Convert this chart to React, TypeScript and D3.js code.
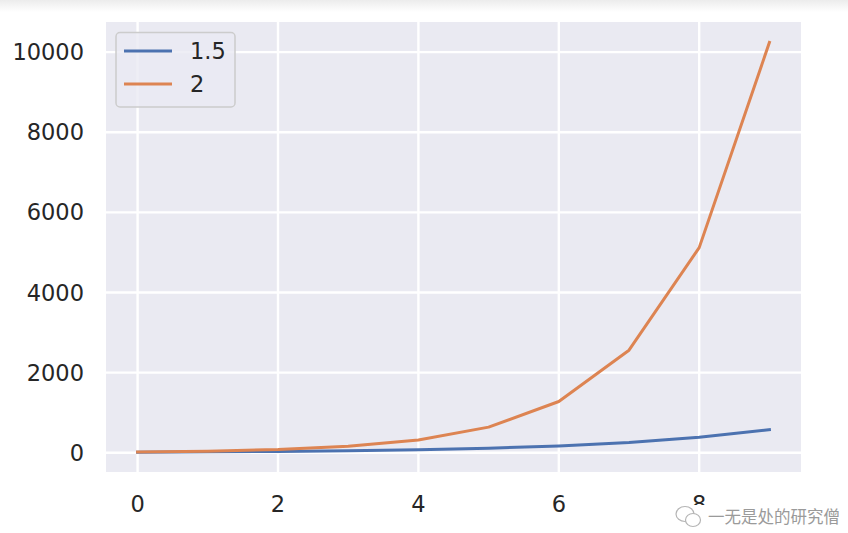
import React from "react";
import * as d3 from "d3";

const xValues = [0, 1, 2, 3, 4, 5, 6, 7, 8, 9];
const series15 = [15, 22.5, 33.8, 50.6, 75.9, 113.9, 170.9, 256.3, 384.4, 576.7];
const series2 = [20, 40, 80, 160, 320, 640, 1280, 2560, 5120, 10240];
const seriesNames = ["1.5", "2"];
const seriesColors = ["#4c72b0", "#dd8452"];
const xTicks = [0, 2, 4, 6, 8];
const yTicks = [0, 2000, 4000, 6000, 8000, 10000];

const W = 848, H = 533;
const L = 106, R = 801, T = 22, B = 472;

export default function App() {
  const x = d3.scaleLinear().domain([-0.45, 9.45]).range([L, R]);
  const y = d3.scaleLinear().domain([-480, 10751]).range([B, T]);
  const line = d3.line<number>().x((_, i) => x(xValues[i])).y((d) => y(d));
  const all = [series15, series2];
  const font = "'DejaVu Sans', sans-serif";
  return (
    <svg width={W} height={H} style={{ position: "absolute", left: 0, top: 0 }}>
      <defs>
        <linearGradient id="topg" x1="0" y1="0" x2="0" y2="1">
          <stop offset="0" stopColor="#ececec" />
          <stop offset="1" stopColor="#ffffff" />
        </linearGradient>
      </defs>
      <rect width={W} height={H} fill="#fff" />
      <rect width={W} height={12} fill="url(#topg)" />
      <rect x={L} y={T} width={R - L} height={B - T} fill="#eaeaf2" />
      {xTicks.map((t) => (
        <line key={"gx" + t} x1={x(t)} x2={x(t)} y1={T} y2={B} stroke="#fff" strokeWidth={2.4} />
      ))}
      {yTicks.map((t) => (
        <line key={"gy" + t} x1={L} x2={R} y1={y(t)} y2={y(t)} stroke="#fff" strokeWidth={2.4} />
      ))}
      {all.map((s, i) => (
        <path key={i} d={line(s) || ""} fill="none" stroke={seriesColors[i]} strokeWidth={3} strokeLinecap="square" strokeLinejoin="round" />
      ))}
      {yTicks.map((t) => (
        <text key={"ty" + t} x={84} y={y(t)} dy="0.36em" textAnchor="end" fontFamily={font} fontSize={22.5} fill="#262626">
          {t}
        </text>
      ))}
      {xTicks.map((t) => (
        <text key={"tx" + t} x={x(t)} y={512} textAnchor="middle" fontFamily={font} fontSize={22.5} fill="#262626">
          {t}
        </text>
      ))}
      <rect x={116} y={32.5} width={119} height={74.5} rx={4} fill="#eaeaf2" fillOpacity={0.8} stroke="#cccccc" strokeWidth={1.5} />
      {seriesNames.map((n, i) => (
        <g key={n}>
          <line x1={124} x2={172} y1={51 + i * 33} y2={51 + i * 33} stroke={seriesColors[i]} strokeWidth={3} />
          <text x={190} y={51 + i * 33} dy="0.36em" fontFamily={font} fontSize={22.5} fill="#262626">
            {n}
          </text>
        </g>
      ))}
      <rect x={668} y={505} width={180} height={28} fill="#fff" />
      <g stroke="#b5b5b5" strokeWidth={1.2} fill="#fff">
        <ellipse cx={685} cy={514} rx={9} ry={7.5} />
        <ellipse cx={693} cy={520} rx={7.5} ry={6.5} />
      </g>
      <text x={708} y={523} fontFamily="'Noto Sans CJK SC', sans-serif" fontSize={16.5} fill="#9a9a9a">
        一无是处的研究僧
      </text>
    </svg>
  );
}
